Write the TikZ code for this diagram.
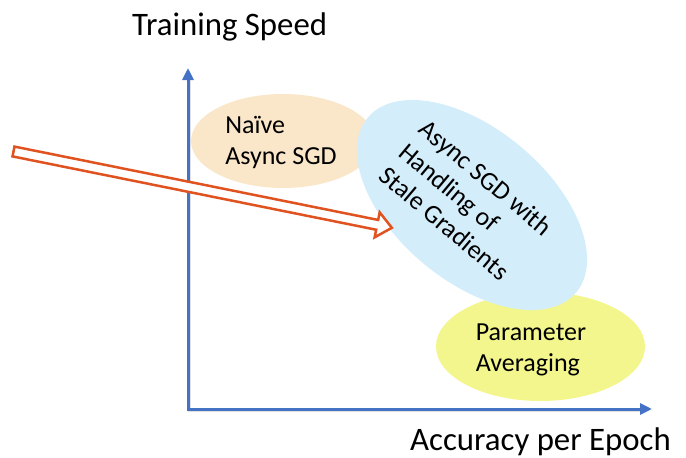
\documentclass[tikz,border=0pt]{standalone}
\usepackage{fontspec}
\setmainfont{Carlito}
\usepackage{tikz}
\usetikzlibrary{arrows.meta}
\usetikzlibrary{shapes.geometric}

\definecolor{axisblue}{HTML}{4472C4}
\definecolor{naivetan}{HTML}{FAE6C9}
\definecolor{stalesky}{HTML}{D4EDFA}
\definecolor{avglime}{HTML}{F3F68C}
\definecolor{pointred}{HTML}{E0521F}

\tikzset{
  axisline/.style = {draw = axisblue, line width = 3pt, line join = miter,
    {Triangle[length = 12pt, width = 11pt]}-{Triangle[length = 12pt, width = 11pt]}},
  axisshade/.style = {draw = black, opacity = 0.12, line width = 3pt},
  axislabel/.style = {draw = none, inner sep = 0pt, font = \fontsize{32.8}{38}\selectfont},
  blob/.style = {ellipse, draw = none, inner sep = 0pt},
  blobtext/.style = {draw = none, inner sep = 0pt, align = left, font = \fontsize{26}{31}\selectfont},
  hollow/.style = {draw = pointred, fill = white, line width = 2.5pt, line join = miter}
}

\begin{document}
\begin{tikzpicture}[x = 1pt, y = -1pt]
		\useasboundingbox (0,0) rectangle (686,458);
		% Parameter averaging region
		\node [blob, fill = avglime, minimum width = 209pt, minimum height = 109pt] (averaging) at (540.5,346.5) {};
		% Naive async region
		\node [blob, fill = naivetan, minimum width = 184pt, minimum height = 94pt] (naive) at (283,141) {};
		% Stale gradient region (tilted)
		\node [blob, fill = stalesky, minimum width = 272pt, minimum height = 152pt, rotate = -40] (stale) at (472,205) {};
		% Region texts
		\node [blobtext] (naivetext) at (281,142) {Naïve\\Async SGD};
		\node [blobtext] (avgtext) at (531,350) {Parameter\\Averaging};
		\node [blobtext, rotate = -40] (staletext) at (466,201) {Async SGD with\\Handling of\\Stale Gradients};
		% Axes with shadow
		\coordinate (origin) at (188,409);
		\coordinate (ytop) at (188,68);
		\coordinate (xend) at (652,409);
		\draw [axisshade] (189.5,80) -- (189.5,410.5) -- (641.5,410.5);
		\draw [axisline] (ytop) -- (origin) -- (xend);
		% Axis labels
		\node [axislabel, anchor = base west] (ylabel) at (132,35) {Training Speed};
		\node [axislabel, anchor = base west] (xlabel) at (410,450) {Accuracy per Epoch};
		% Hollow pointer into the stale region
		\coordinate (tail) at (13.5,151.5);
		\coordinate (tip) at (392,228);
		\begin{scope}[shift = {(tail)}, rotate = -11.4]
			\draw [hollow] (0,5) -- (371,5) -- (371,12.75) -- (386,0) -- (371,-12.75) -- (371,-5) -- (0,-5) -- cycle;
		\end{scope}
\end{tikzpicture}
\end{document}
